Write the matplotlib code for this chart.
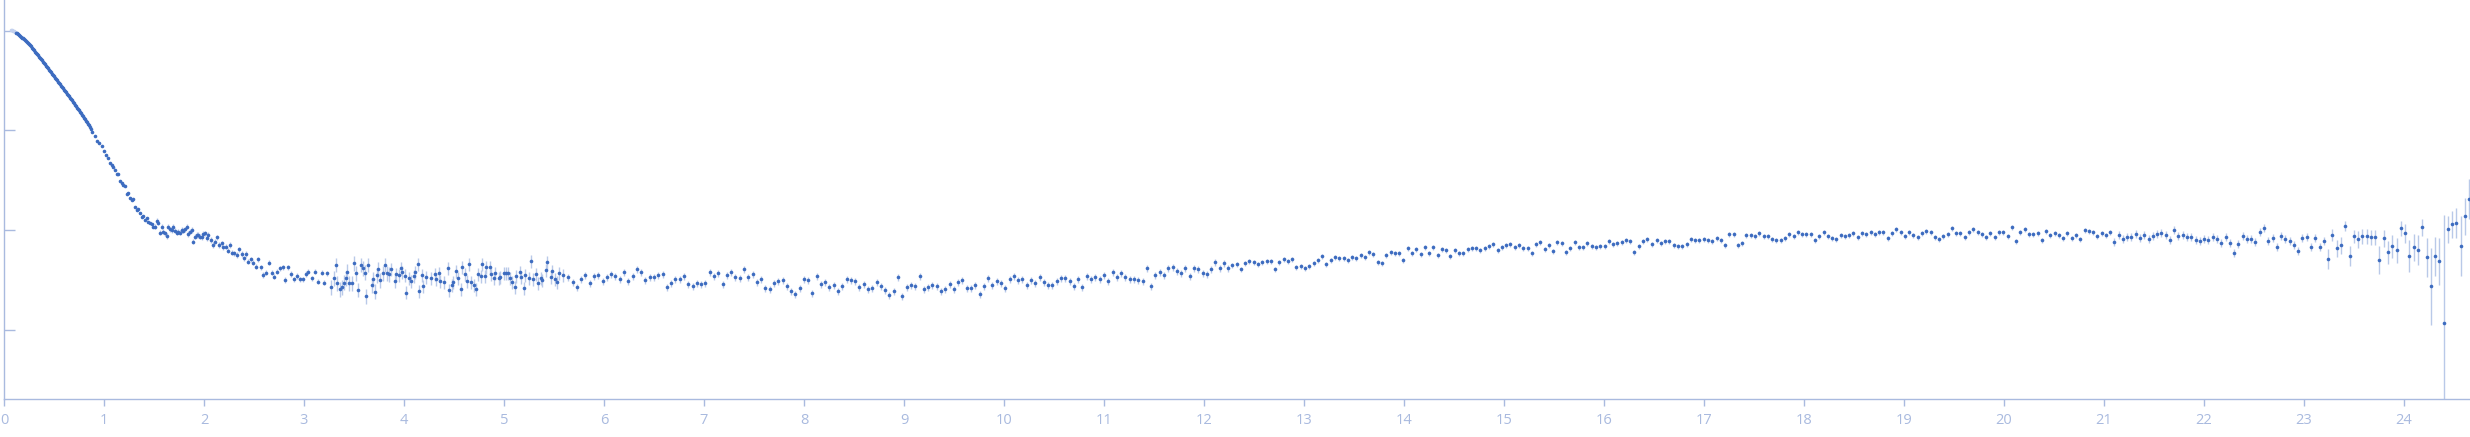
import numpy as np
import matplotlib
matplotlib.use("Agg")
import matplotlib.pyplot as plt

# log10 intensity values, by q range

# first few points, drawn pale
q_pale = [0.07, 0.08, 0.09, 0.10, 0.11]
i_pale = [0.004, 0.002, -0.001, -0.005, -0.011]

# Guinier region, q from 0.12 to 0.87
q_guinier_range = (0.12, 0.87)
i_guinier = [
    -0.020, -0.027, -0.035, -0.044, -0.053, -0.061, -0.069, -0.077, -0.086, -0.094,
    -0.104, -0.114, -0.124, -0.134, -0.144, -0.157, -0.170, -0.184, -0.197, -0.210,
    -0.224, -0.236, -0.248, -0.260, -0.271, -0.284, -0.298, -0.311, -0.325, -0.338,
    -0.352, -0.365, -0.378, -0.392, -0.405, -0.419, -0.432, -0.445, -0.459, -0.472,
    -0.486, -0.499, -0.512, -0.526, -0.539, -0.553, -0.566, -0.579, -0.593, -0.606,
    -0.620, -0.633, -0.646, -0.660, -0.673, -0.687, -0.700, -0.715, -0.730, -0.744,
    -0.759, -0.773, -0.787, -0.800, -0.814, -0.828, -0.842, -0.857, -0.872, -0.887,
    -0.902, -0.918, -0.934, -0.950, -0.967, -0.984,
]

# knee and first shoulder
q_knee = [
    0.877, 0.910, 0.933, 0.953, 0.977, 1.000, 1.020, 1.043, 1.060, 1.077,
    1.093, 1.110, 1.127, 1.143, 1.160, 1.177, 1.193, 1.210, 1.227, 1.243,
    1.260, 1.277, 1.293, 1.310, 1.327, 1.343, 1.360, 1.377, 1.393, 1.410,
    1.427, 1.443, 1.460, 1.477, 1.493, 1.510, 1.527, 1.543, 1.560, 1.577,
    1.593, 1.610, 1.627, 1.643, 1.660, 1.677, 1.693, 1.710, 1.727, 1.743,
    1.760, 1.777, 1.793, 1.810, 1.827, 1.843, 1.860, 1.877, 1.893, 1.910,
    1.927, 1.943, 1.960, 1.977, 1.993, 2.010, 2.027, 2.043, 2.067, 2.093,
    2.110, 2.133, 2.153, 2.177, 2.193, 2.220, 2.243, 2.260, 2.277, 2.300,
    2.327, 2.353, 2.377, 2.400, 2.420, 2.443, 2.467, 2.493, 2.520, 2.543,
    2.567, 2.593, 2.620, 2.653, 2.677, 2.700, 2.733, 2.760, 2.787, 2.810,
    2.843, 2.867, 2.900, 2.927, 2.960, 2.987, 3.020, 3.043, 3.077, 3.110,
    3.143, 3.177, 3.200, 3.233, 3.267, 3.300, 3.320, 3.333, 3.360, 3.377,
    3.400, 3.420, 3.433, 3.453, 3.477, 3.500, 3.520, 3.543, 3.567, 3.587,
    3.610, 3.620, 3.643, 3.677, 3.687, 3.710, 3.727, 3.743, 3.760, 3.793,
    3.810, 3.833, 3.853,
]
i_knee = [
    -1.014, -1.057, -1.104, -1.131, -1.158, -1.204, -1.248, -1.281, -1.325, -1.348,
    -1.372, -1.399, -1.439, -1.439, -1.506, -1.526, -1.549, -1.559, -1.640, -1.633,
    -1.676, -1.700, -1.693, -1.773, -1.800, -1.787, -1.827, -1.867, -1.860, -1.901,
    -1.884, -1.917, -1.927, -1.941, -1.968, -1.968, -1.907, -1.927, -2.028, -1.968,
    -2.018, -2.035, -2.061, -1.968, -1.994, -2.001, -1.968, -2.008, -2.028, -2.018,
    -2.028, -2.001, -2.008, -1.994, -1.968, -2.041, -2.018, -2.001, -2.118, -2.068,
    -2.051, -2.051, -2.068, -2.075, -2.041, -2.035, -2.085, -2.051, -2.101, -2.152,
    -2.118, -2.075, -2.152, -2.135, -2.175, -2.168, -2.209, -2.152, -2.229, -2.235,
    -2.252, -2.195, -2.242, -2.286, -2.242, -2.319, -2.296, -2.329, -2.369, -2.296,
    -2.376, -2.453, -2.429, -2.329, -2.429, -2.470, -2.419, -2.386, -2.376, -2.503,
    -2.376, -2.443, -2.496, -2.463, -2.496, -2.496, -2.443, -2.419, -2.486, -2.419,
    -2.520, -2.429, -2.530, -2.436, -2.577, -2.486, -2.352, -2.537, -2.597, -2.577,
    -2.530, -2.486, -2.419, -2.537, -2.537, -2.336, -2.436, -2.603, -2.352, -2.386,
    -2.429, -2.664, -2.352, -2.553, -2.496, -2.620, -2.453, -2.396, -2.503, -2.436,
    -2.352, -2.436, -2.443,
]

# noisy stretch 3.9 - 5.6
q_noisy = [
    3.873, 3.913, 3.923, 3.953, 3.973, 3.983, 4.013, 4.023, 4.053, 4.073,
    4.103, 4.113, 4.143, 4.153, 4.183, 4.193, 4.223, 4.273, 4.313, 4.323,
    4.353, 4.363, 4.403, 4.443, 4.453, 4.483, 4.493, 4.523, 4.543, 4.573,
    4.583, 4.613, 4.633, 4.653, 4.673, 4.703, 4.723, 4.743, 4.773, 4.783,
    4.813, 4.823, 4.863, 4.873, 4.903, 4.913, 4.953, 4.963, 5.003, 5.023,
    5.043, 5.063, 5.083, 5.113, 5.123, 5.163, 5.173, 5.203, 5.213, 5.253,
    5.273, 5.293, 5.323, 5.343, 5.373, 5.383, 5.423, 5.433, 5.473, 5.483,
    5.513, 5.533, 5.553, 5.593,
]
i_noisy = [
    -2.396, -2.517, -2.446, -2.456, -2.386, -2.426, -2.460, -2.630, -2.486, -2.517,
    -2.466, -2.426, -2.346, -2.617, -2.456, -2.567, -2.476, -2.486, -2.446, -2.496,
    -2.436, -2.517, -2.527, -2.386, -2.607, -2.557, -2.527, -2.416, -2.486, -2.597,
    -2.376, -2.446, -2.517, -2.346, -2.527, -2.557, -2.597, -2.446, -2.466, -2.346,
    -2.466, -2.376, -2.376, -2.446, -2.486, -2.436, -2.486, -2.476, -2.436, -2.436,
    -2.436, -2.486, -2.527, -2.577, -2.466, -2.426, -2.476, -2.587, -2.456, -2.486,
    -2.316, -2.496, -2.446, -2.537, -2.486, -2.506, -2.406, -2.326, -2.476, -2.416,
    -2.496, -2.527, -2.436, -2.456,
]

# evenly spaced points from here on: (first q, last q) and values
q_a_range = (5.643, 8.043)
i_a = [
    -2.476, -2.527, -2.577, -2.496, -2.456, -2.537, -2.466, -2.456, -2.517, -2.476,
    -2.446, -2.466, -2.496, -2.426, -2.517, -2.466, -2.396, -2.426, -2.506, -2.476,
    -2.476, -2.456, -2.446, -2.577, -2.537, -2.496, -2.496, -2.466, -2.547, -2.567,
    -2.537, -2.547, -2.537, -2.426, -2.466, -2.436, -2.547, -2.456, -2.426, -2.476,
    -2.486, -2.396, -2.476, -2.446, -2.527, -2.496, -2.587, -2.597, -2.537, -2.517,
    -2.506, -2.567, -2.617, -2.647, -2.587, -2.496, -2.506,
]

q_b_range = (8.083, 12.243)
i_b = [
    -2.637, -2.466, -2.547, -2.527, -2.577, -2.557, -2.617, -2.567, -2.496, -2.506,
    -2.517, -2.577, -2.547, -2.597, -2.587, -2.527, -2.567, -2.607, -2.657, -2.617,
    -2.476, -2.667, -2.577, -2.557, -2.567, -2.466, -2.597, -2.577, -2.557, -2.567,
    -2.617, -2.597, -2.547, -2.597, -2.527, -2.506, -2.587, -2.587, -2.557, -2.647,
    -2.567, -2.486, -2.557, -2.517, -2.537, -2.587, -2.496, -2.466, -2.506, -2.496,
    -2.557, -2.506, -2.537, -2.476, -2.527, -2.557, -2.557, -2.517, -2.486, -2.486,
    -2.517, -2.567, -2.496, -2.577, -2.466, -2.496, -2.476, -2.496, -2.456, -2.517,
    -2.426, -2.476, -2.436, -2.476, -2.496, -2.496, -2.506, -2.517, -2.386, -2.567,
    -2.456, -2.426, -2.456, -2.386, -2.376, -2.416, -2.436, -2.386, -2.466, -2.386,
    -2.396, -2.436, -2.446, -2.396, -2.326, -2.386, -2.336, -2.386,
]

q_c_range = (12.283, 16.433)
i_c = [
    -2.356, -2.346, -2.396, -2.336, -2.316, -2.326, -2.346, -2.326, -2.316, -2.316,
    -2.396, -2.326, -2.296, -2.316, -2.296, -2.376, -2.366, -2.386, -2.366, -2.336,
    -2.306, -2.265, -2.346, -2.306, -2.275, -2.285, -2.285, -2.306, -2.275, -2.285,
    -2.255, -2.275, -2.225, -2.245, -2.326, -2.336, -2.255, -2.225, -2.235, -2.235,
    -2.306, -2.185, -2.235, -2.195, -2.245, -2.175, -2.235, -2.175, -2.255, -2.195,
    -2.205, -2.265, -2.205, -2.235, -2.235, -2.195, -2.185, -2.185, -2.205, -2.185,
    -2.165, -2.145, -2.205, -2.175, -2.155, -2.145, -2.175, -2.155, -2.185, -2.185,
    -2.235, -2.145, -2.125, -2.195, -2.155, -2.215, -2.125, -2.135, -2.225, -2.185,
    -2.125, -2.175, -2.175, -2.135, -2.165, -2.175, -2.165, -2.165, -2.115, -2.145,
    -2.135, -2.125, -2.105, -2.115, -2.225, -2.165, -2.115, -2.095,
]

q_d_range = (16.483, 21.063)
i_d = [
    -2.145, -2.105, -2.135, -2.115, -2.115, -2.155, -2.165, -2.165, -2.145, -2.095,
    -2.105, -2.105, -2.095, -2.105, -2.115, -2.085, -2.105, -2.155, -2.045, -2.045,
    -2.155, -2.135, -2.055, -2.055, -2.065, -2.035, -2.065, -2.065, -2.095, -2.105,
    -2.105, -2.085, -2.045, -2.065, -2.025, -2.045, -2.045, -2.045, -2.105, -2.065,
    -2.025, -2.065, -2.085, -2.095, -2.055, -2.065, -2.055, -2.035, -2.075, -2.035,
    -2.045, -2.025, -2.045, -2.025, -2.025, -2.085, -2.035, -1.994, -2.025, -2.065,
    -2.025, -2.055, -2.075, -2.035, -2.015, -2.025, -2.075, -2.095, -2.065, -2.045,
    -1.984, -2.035, -2.035, -2.075, -2.025, -1.994, -2.025, -2.045, -2.075, -2.035,
    -2.075, -2.025, -2.025, -2.065, -1.974, -2.115, -2.025, -1.994, -2.045, -2.045,
    -2.035, -2.105, -2.015, -2.055, -2.035, -2.055, -2.085, -2.035, -2.085, -2.055,
    -2.095, -2.004, -2.015, -2.025, -2.065, -2.035, -2.055, -2.025,
]

q_e_range = (21.103, 24.653)
i_e = [
    -2.125, -2.055, -2.095, -2.075, -2.075, -2.045, -2.085, -2.055, -2.095, -2.065,
    -2.045, -2.035, -2.055, -2.105, -2.005, -2.065, -2.055, -2.075, -2.075, -2.105,
    -2.115, -2.095, -2.105, -2.075, -2.095, -2.135, -2.075, -2.135, -2.235, -2.145,
    -2.065, -2.095, -2.095, -2.125, -2.025, -1.985, -2.115, -2.085, -2.175, -2.065,
    -2.095, -2.115, -2.155, -2.215, -2.085, -2.075, -2.175, -2.085, -2.175, -2.115,
    -2.296, -2.055, -2.185, -2.155, -1.964, -2.266, -2.065, -2.095, -2.065, -2.065,
    -2.075, -2.075, -2.306, -2.085, -2.225, -2.165, -2.205, -1.985, -2.035, -2.266,
    -2.175, -2.205, -1.974, -2.276, -2.567, -2.266, -2.316, -2.938, -1.994, -1.944,
    -1.934, -2.165, -1.864, -1.693,
]
# error bars of the last 34 points (log units); the ones before are ~0.04
err_e_tail = [
    0.100, 0.060, 0.084, 0.084, 0.050, 0.100, 0.067, 0.084, 0.074, 0.074,
    0.074, 0.074, 0.140, 0.084, 0.117, 0.117, 0.127, 0.074, 0.094, 0.160,
    0.134, 0.150, 0.084, 0.194, 0.385, 0.200, 0.240, 1.090, 0.134, 0.134,
    0.150, 0.300, 0.184, 0.200,
]

# typical error bar half-length (log units) by q range
err_edges = [1.5, 3.25]
err_knee = [0.010, 0.027, 0.075]

dot = "#3d6cc0"
pale = "#c3d1ee"
bar = "#b9c9e8"
axis_col = "#a9badf"


def spread(rng, vals):
    return np.linspace(rng[0], rng[1], len(vals))


fig = plt.figure(figsize=(24.7, 4.37), dpi=100)
ax = fig.add_axes([4 / 2470, 37.7 / 437, 1 - 4 / 2470, 399.3 / 437])

kw = dict(fmt="o", ms=2.6, mew=0, capsize=0, elinewidth=1, ecolor=bar)

ax.errorbar(q_pale, i_pale, yerr=0.004, color=pale, mfc=pale, **kw)
ax.errorbar(spread(q_guinier_range, i_guinier), i_guinier, yerr=0.004, color=dot, **kw)

qk = np.array(q_knee)
ek = np.array(err_knee)[np.searchsorted(err_edges, qk)]
ax.errorbar(qk, i_knee, yerr=ek, color=dot, **kw)

qn = np.array(q_noisy)
en = np.where(qn < 5.6, 0.065, 0.035)
ax.errorbar(qn, i_noisy, yerr=en, color=dot, **kw)

ax.errorbar(spread(q_a_range, i_a), i_a, yerr=0.035, color=dot, **kw)
ax.errorbar(spread(q_b_range, i_b), i_b, yerr=0.035, color=dot, **kw)
ax.errorbar(spread(q_c_range, i_c), i_c, yerr=0.028, color=dot, **kw)
ax.errorbar(spread(q_d_range, i_d), i_d, yerr=0.028, color=dot, **kw)

ee = np.full(len(i_e), 0.04)
ee[len(i_e) - len(err_e_tail):] = err_e_tail
ax.errorbar(spread(q_e_range, i_e), i_e, yerr=ee, color=dot, **kw)

ax.set_xlim(0, 24.66)
ax.set_ylim(-3.70, 0.308)

for s in ["top", "right"]:
    ax.spines[s].set_visible(False)
for s in ["left", "bottom"]:
    ax.spines[s].set_color(axis_col)
    ax.spines[s].set_linewidth(1)

ax.set_xticks(range(25))
ax.set_xticklabels([str(k) for k in range(25)], fontsize=10.5, color=axis_col,
                   family=["Open Sans", "DejaVu Sans"])
ax.tick_params(axis="x", direction="out", length=5, width=1, color=axis_col, pad=5)
ax.set_yticks([-3, -2, -1, 0])
ax.set_yticklabels([])
ax.tick_params(axis="y", direction="in", length=8, width=1, color=axis_col)

fig.savefig("out.png", dpi=100)
